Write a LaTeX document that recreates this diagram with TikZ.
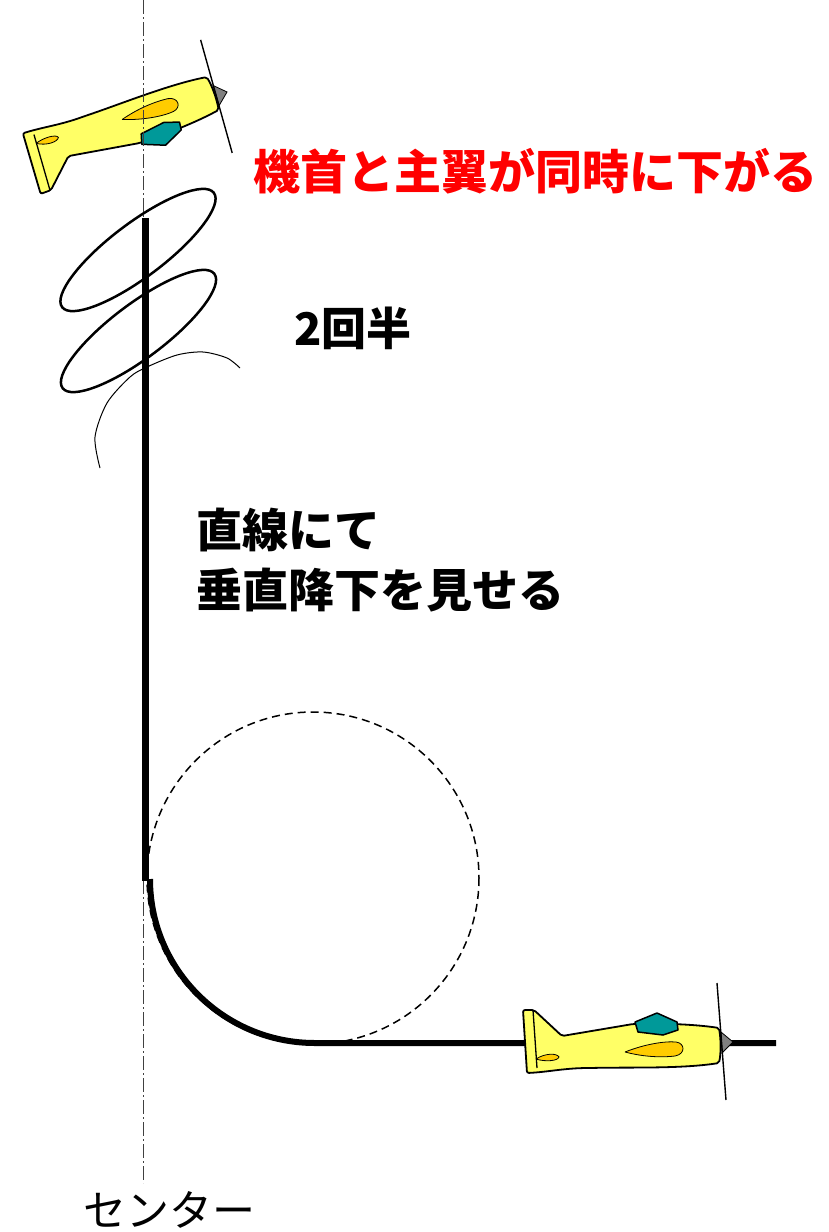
\documentclass[tikz,border=0pt]{standalone}
\usepackage{fontspec}
\newfontfamily\jpfont{Noto Sans CJK JP}
\definecolor{planeyellow}{HTML}{FFFF66}
\definecolor{wingorange}{HTML}{FFCC00}
\definecolor{canopyteal}{HTML}{009999}
\definecolor{spinnergrey}{HTML}{808080}

\tikzset{
  track/.style={line width=7pt},
  spin/.style={line width=2.5pt},
  centreline/.style={line width=0.9pt, black!75, dash pattern=on 14pt off 3pt on 2pt off 3pt},
  label/.style={inner sep=0pt, anchor=base west, font=\jpfont},
  pics/plane/.style={code={
    % fuselage, nose to the right, origin at the nose
    \draw[line width=1.8pt, fill=planeyellow, line join=round, rounded corners=2pt]
      (-197,-35) -- (-186,-35) -- (-158,-9) -- (-87,-21)
      .. controls (-50,-22) and (-20,-20) .. (-1,-17)
      .. controls (1,-5) and (1,8) .. (-1,18)
      .. controls (-40,24) and (-90,22) .. (-130,23)
      .. controls (-155,23) and (-172,27) .. (-193,28) -- cycle;
    \draw[line width=1.5pt, fill=canopyteal, line join=round]
      (-85,-23) -- (-63,-32) -- (-43,-23) -- (-42,-15) -- (-57,-10) -- (-82,-13) -- cycle;
    \draw[line width=0.8pt, fill=wingorange]
      (-95,7) .. controls (-75,-1) and (-55,-4) .. (-44,-3)
      .. controls (-35,-2) and (-34,9) .. (-45,11)
      .. controls (-62,13) and (-80,11) .. (-95,7);
    \draw[line width=0.8pt, fill=wingorange]
      (-184,14) .. controls (-175,8) and (-163,8) .. (-161,12)
      .. controls (-162,16) and (-175,17) .. (-184,14);
    \draw[line width=1.3pt] (-187,-35) -- (-183,23);
    \draw[line width=0.8pt, fill=spinnergrey] (1,-13) -- (13,-3) -- (2,8) -- cycle;
    \draw[line width=1.4pt] (-3,-62) -- (6,55);
  }},
}

\begin{document}
\begin{tikzpicture}[x=1pt, y=-1pt]
\useasboundingbox (0,0) rectangle (829,1232);

\pic[rotate=20, yscale=-1] (topplane) at (213.8,93.6) {plane};
\draw[centreline] (143,0) -- (143,1183);

% vertical dive, quarter loop and level exit
\draw[track] (145,218) -- (145,881);
\draw[track, line width=6pt] (150,879) arc[start angle=180, end angle=90, x radius=165, y radius=164] -- (776,1043);
\draw[line width=1.5pt, dash pattern=on 8pt off 5pt] (313,878) circle[radius=166];

% two and a half turns
\draw[spin] (138,250) circle[x radius=95, y radius=27, rotate=37];
\draw[spin] (138.5,331) circle[x radius=95, y radius=27, rotate=37];
\draw[line width=1pt] plot[smooth] coordinates {(100,468) (95,437) (107,403) (130,377) (147,367) (177,355) (203,352) (227,358) (240,368)};

\pic (lowplane) at (720,1045) {plane};

\node[label, font=\jpfont\bfseries\fontsize{47}{47}\selectfont, text=red] (nose) at (253,189) {機首と主翼が同時に下がる};
\node[label, font=\jpfont\bfseries\fontsize{45}{45}\selectfont] (turns) at (294,345) {2回半};
\node[label, font=\jpfont\bfseries\fontsize{46}{60}\selectfont, align=left] (dive) at (196,607) {直線にて\\垂直降下を見せる};
\node[label, font=\jpfont\fontsize{43}{43}\selectfont] (centre) at (83,1226) {センター};
\end{tikzpicture}
\end{document}
